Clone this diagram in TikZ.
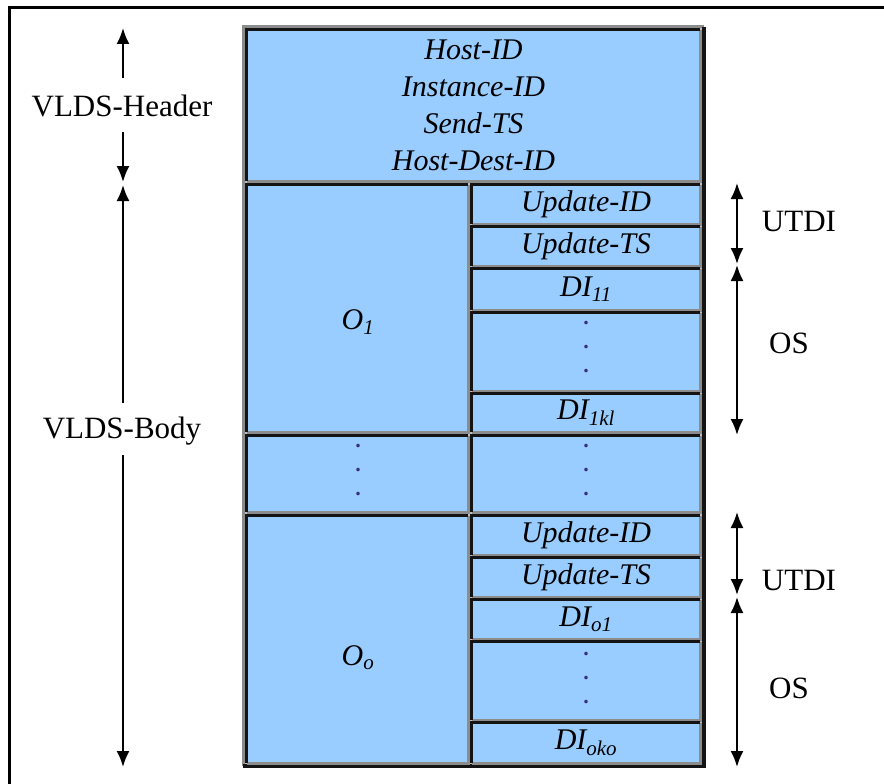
\documentclass[tikz,border=0pt]{standalone}
\usepackage{fontspec}
\setmainfont{Liberation Serif}
\usetikzlibrary{arrows.meta}
\definecolor{cellblue}{HTML}{99CCFF}
\definecolor{edgedark}{HTML}{141414}
\definecolor{edgelite}{HTML}{8C8C8C}
\definecolor{tablebg}{HTML}{C0C0C0}
\definecolor{dotcol}{HTML}{3A2F7A}
\newcommand\vcell[7]{%
 \pgfmathsetmacro\cw{#4-#2}\pgfmathsetmacro\ch{#5-#3}%
 \pgfmathsetmacro\cx{(#2+#4)/2}\pgfmathsetmacro\cy{(#3+#5)/2}%
 \node[cell,minimum width=\cw pt,minimum height=\ch pt,#6] (#1) at (\cx,\cy) {#7};%
 \draw[edgelite,line width=2.8pt] (#1.south west) -| (#1.north east);%
 \draw[edgedark,line width=2.8pt] (#1.south west) |- (#1.north east);}
\begin{document}
\begin{tikzpicture}[x=1pt,y=-1pt,
  cell/.style={rectangle,fill=cellblue,inner sep=0pt,font=\fontsize{30}{37}\selectfont\itshape,align=center},
  lbl/.style={inner sep=0pt,font=\fontsize{31}{37}\selectfont},
  itl/.style={inner sep=0pt,font=\fontsize{30}{37}\selectfont\itshape},
  dotstack/.style={inner sep=0pt,text=dotcol,align=center,font=\fontsize{22}{24}\selectfont\bfseries},
  arr/.style={line width=2pt,-{Latex[length=16pt,width=13pt]}},
  darr/.style={line width=2pt,{Latex[length=16pt,width=13pt]}-{Latex[length=16pt,width=13pt]}}]
\useasboundingbox (0,0) rectangle (884,784);
% outer frame
\draw[line width=3pt] (9,784) -- (9,8) -- (884,8);
% table background and border
\fill[tablebg] (243,27) rectangle (704,766);
\draw[edgelite,line width=3pt] (243,766) |- (704,27);
\draw[edgedark,line width=3.5pt] (243,766) -| (704,27);
% cells
\vcell{hdr}{247}{30}{700}{181}{}{Host-ID\\Instance-ID\\Send-TS\\Host-Dest-ID}
\vcell{o1}{247}{185}{468}{432}{}{}
\vcell{uid1}{472}{185}{700}{224}{}{Update-ID}
\vcell{uts1}{472}{227}{700}{266}{}{Update-TS}
\vcell{di11}{472}{269}{700}{310}{}{DI\textsubscript{11}}
\vcell{dot1}{472}{313}{700}{391}{}{}
\vcell{di1kl}{472}{394}{700}{432}{}{DI\textsubscript{1kl}}
\vcell{dotl}{247}{436}{468}{512}{}{}
\vcell{dotr}{472}{436}{700}{512}{}{}
\vcell{oo}{247}{516}{468}{763}{}{}
\vcell{uid2}{472}{516}{700}{555}{}{Update-ID}
\vcell{uts2}{472}{558}{700}{597}{}{Update-TS}
\vcell{dio1}{472}{600}{700}{639}{}{DI\textsubscript{o1}}
\vcell{dot2}{472}{642}{700}{720}{}{}
\vcell{dioko}{472}{723}{700}{763}{}{DI\textsubscript{oko}}
% texts in big cells
\node[itl] (o1t) at (358,322) {O\textsubscript{1}};
\node[itl] (oot) at (358,658) {O\textsubscript{o}};
\node[dotstack] (d1) at (586,347) {.\\.\\.};
\node[dotstack] (d2) at (358,470) {.\\.\\.};
\node[dotstack] (d3) at (586,470) {.\\.\\.};
\node[dotstack] (d4) at (586,678) {.\\.\\.};
% left labels and arrows
\node[lbl] (hl) at (122,106) {VLDS-Header};
\node[lbl] (bl) at (122,431) {VLDS-Body};
\coordinate (h1) at (123,78);
\coordinate (h1t) at (123,28);
\coordinate (h2) at (123,132);
\coordinate (h2t) at (123,182);
\coordinate (b1) at (123,403);
\coordinate (b1t) at (123,185);
\coordinate (b2) at (123,455);
\coordinate (b2t) at (123,767);
\draw[arr] (h1) -- (h1t);
\draw[arr] (h2) -- (h2t);
\draw[arr] (b1) -- (b1t);
\draw[arr] (b2) -- (b2t);
% right labels and arrows
\coordinate (r1) at (737,183);
\coordinate (r2) at (737,264);
\coordinate (r3) at (737,265);
\coordinate (r4) at (737,435);
\coordinate (r5) at (737,512);
\coordinate (r6) at (737,595);
\coordinate (r7) at (737,597);
\coordinate (r8) at (737,767);
\draw[darr] (r1) -- (r2);
\draw[darr] (r3) -- (r4);
\draw[darr] (r5) -- (r6);
\draw[darr] (r7) -- (r8);
\node[lbl] (ut1) at (799,222) {UTDI};
\node[lbl] (os1) at (789,343) {OS};
\node[lbl] (ut2) at (799,580) {UTDI};
\node[lbl] (os2) at (789,688) {OS};
\end{tikzpicture}
\end{document}
